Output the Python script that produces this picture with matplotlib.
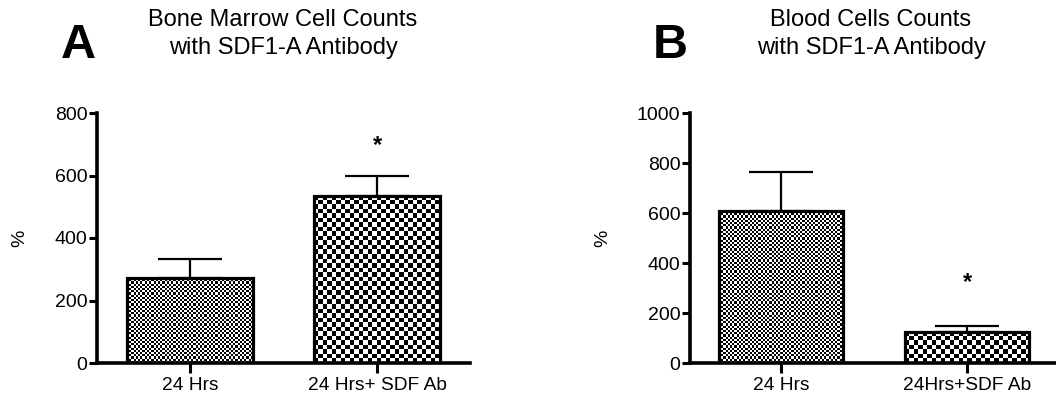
import numpy as np
import matplotlib
matplotlib.use("Agg")
import matplotlib.pyplot as plt

plt.rcParams['font.family'] = ['Liberation Sans', 'DejaVu Sans']

categories_a = ["24 Hrs", "24 Hrs+ SDF Ab"]
values_a = [273, 535]
errors_a = [60, 65]
yticks_a = [0, 200, 400, 600, 800]
title_a = "Bone Marrow Cell Counts\nwith SDF1-A Antibody"

categories_b = ["24 Hrs", "24Hrs+SDF Ab"]
values_b = [608, 125]
errors_b = [157, 23]
yticks_b = [0, 200, 400, 600, 800, 1000]
title_b = "Blood Cells Counts\nwith SDF1-A Antibody"

star_a = [None, 697]
star_b = [None, 320]

W, H = 1056, 398
fig = plt.figure(figsize=(W / 100, H / 100), dpi=100)


def px_axes(x0, x1, ytop, ybot):
    return fig.add_axes([x0 / W, (H - ybot) / H, (x1 - x0) / W, (ybot - ytop) / H])


def checker_fill(ax, bar, sq):
    fig.canvas.draw()
    bb = bar.get_window_extent()
    nx = max(1, int(round(bb.width / sq)))
    ny = max(1, int(round(bb.height / sq)))
    yy, xx = np.indices((ny, nx))
    arr = ((xx + yy) % 2).astype(float)
    x0, y0 = bar.get_x(), bar.get_y()
    w, h = bar.get_width(), bar.get_height()
    im = ax.imshow(arr, cmap='gray', vmin=0, vmax=1, interpolation='nearest',
                   extent=[x0, x0 + w, y0, y0 + h], aspect='auto', zorder=2)
    im.set_clip_path(bar)


def panel(ax, cats, vals, errs, ticks, ymax, xlim, stars, squares):
    x = np.arange(len(cats))
    bars = ax.bar(x, vals, width=0.67, facecolor='none', edgecolor='black',
                  linewidth=2.3, zorder=3)
    ax.errorbar(x, vals, yerr=[np.zeros(len(errs)), errs], fmt='none',
                ecolor='black', elinewidth=1.6, capsize=23, capthick=1.6, zorder=1)
    ax.set_xlim(*xlim)
    ax.set_ylim(0, ymax)
    ax.set_yticks(ticks)
    ax.set_xticks(x)
    ax.set_xticklabels(cats, fontsize=13.8)
    ax.tick_params(axis='y', labelsize=14, width=2.2, length=6, pad=1)
    ax.tick_params(axis='x', width=2.2, length=7, pad=3)
    for s in ['top', 'right']:
        ax.spines[s].set_visible(False)
    for s in ['left', 'bottom']:
        ax.spines[s].set_linewidth(2.6)
    ax.set_ylabel('%', fontsize=14)
    for xi, s in zip(x, stars):
        if s is not None:
            ax.text(xi, s, '*', ha='center', va='center', fontsize=17, fontweight='bold')
    for b, sq in zip(bars, squares):
        checker_fill(ax, b, sq)
    ax.set_xlim(*xlim)
    ax.set_ylim(0, ymax)
    ax.patch.set_alpha(0)


axA = px_axes(97, 470, 113, 363)
panel(axA, categories_a, values_a, errors_a, yticks_a, 800, (-0.497, 1.497), star_a, [2.2, 4.5])

axB = px_axes(690, 1056, 113, 363)
panel(axB, categories_b, values_b, errors_b, yticks_b, 1000, (-0.489, 1.478), star_b, [2.2, 4.5])
axB.yaxis.set_label_coords(-(690 - 603) / 366, 0.5)
axA.yaxis.set_label_coords(-(97 - 20) / 373, 0.5)
axA.yaxis.label.set_va('center')
axB.yaxis.label.set_va('center')

fig.text(283 / W, 1 - 34 / H, title_a, ha='center', va='center', fontsize=17, linespacing=1.35)
fig.text(871 / W, 1 - 34 / H, title_b, ha='center', va='center', fontsize=17, linespacing=1.35)
fig.text(78 / W, 1 - 46 / H, 'A', ha='center', va='center', fontsize=35, fontweight='bold')
fig.text(670 / W, 1 - 46 / H, 'B', ha='center', va='center', fontsize=35, fontweight='bold')

fig.savefig('out.png', dpi=100)
